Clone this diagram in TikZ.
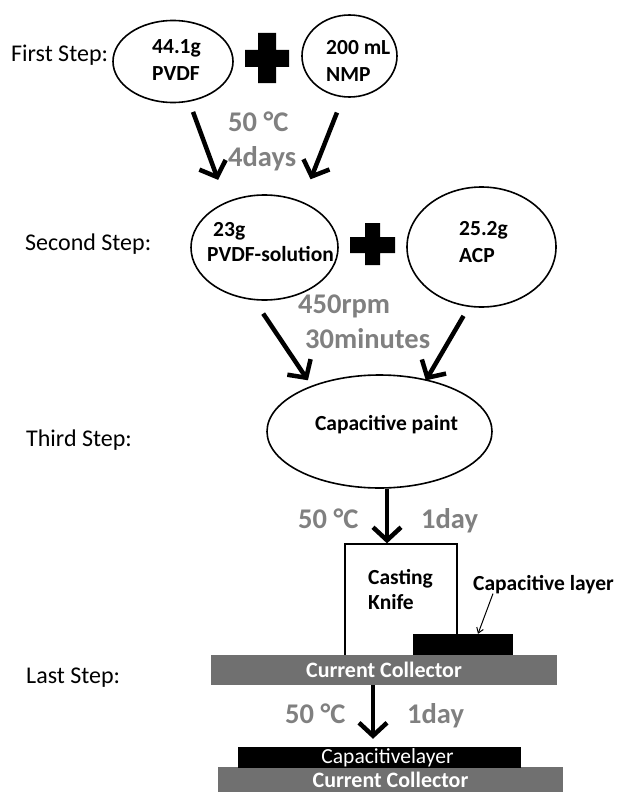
\documentclass[tikz,border=0pt]{standalone}
\usepackage{fontspec}
\setmainfont{Carlito}
\usetikzlibrary{positioning, arrows.meta, shapes.geometric}
\definecolor{condgray}{RGB}{128,128,128}
\definecolor{collgray}{RGB}{112,112,112}

\begin{document}
\begin{tikzpicture}[
    x=1pt, y=-1pt,
    % Styles
    steplabel/.style={anchor=base west, inner sep=0pt, font=\fontsize{24}{29}\selectfont},
    blob/.style={ellipse, draw, line width=1.6pt, inner sep=0pt},
    amount/.style={anchor=north west, inner sep=0pt, align=left, font=\fontsize{21.5}{27}\selectfont\bfseries},
    condition/.style={anchor=north west, inner sep=0pt, align=left, condgray, font=\fontsize{28.5}{35}\selectfont\bfseries},
    flow/.style={line width=4.5pt, -{Straight Barb[length=13pt,width=28pt]}},
    collector/.style={fill=collgray, text=white, inner sep=0pt, font=\fontsize{22}{26}\selectfont\bfseries},
    layer/.style={fill=black, inner sep=0pt},
]
\useasboundingbox (0,0) rectangle (619,792);
\clip (0,0) rectangle (619,792);

% First step
\node[steplabel] (step1) at (11,62) {First Step:};
\node[blob, minimum width=120pt, minimum height=82pt] (pvdf) at (173,61.5) {};
\node[amount] (pvdftext) at (152,39) {44.1g\\PVDF};
\fill (258,33) rectangle (276,83) (245,50) rectangle (289,67); % plus
\node[blob, minimum width=95pt, minimum height=82pt] (nmp) at (349.5,56) {};
\node[amount] (nmptext) at (326,40) {200 mL\\NMP};
\node[condition] (heat1) at (228,112) {50 °C\\4days};

% Second step
\node[steplabel] (step2) at (25,250) {Second Step:};
\node[blob, minimum width=147pt, minimum height=105pt] (sol) at (264.5,247.5) {};
\node[amount, font=\fontsize{21.5}{25}\selectfont\bfseries] (soltext) at (207,222) {\hspace*{6pt}23g\\PVDF-solution};
\fill (365,223) rectangle (380,265) (350,237) rectangle (395,253); % plus
\node[blob, minimum width=149pt, minimum height=120pt] (acp) at (481.5,247) {};
\node[amount] (acptext) at (459,221) {25.2g\\ACP};
\node[condition] (mix) at (298,295) {450rpm\\\hspace*{7pt}30minutes};

\draw[flow, shorten <=10.8pt, shorten >=23.4pt] (pvdf.-68.7) -- (sol.130.2);
\draw[flow, shorten <=16.3pt, shorten >=23.8pt] (nmp.-99) -- (sol.51);

% Third step
\node[steplabel] (step3) at (26,446) {Third Step:};
\node[blob, minimum width=225pt, minimum height=113pt] (paint) at (379.5,431.5) {};
\node[amount, anchor=base] (painttext) at (386.5,430) {Capacitive paint};
\node[condition, anchor=base west] (heat2) at (298,528) {50 °C};
\node[condition, anchor=base west] (time2) at (421,528) {1day};

\draw[flow, shorten <=16pt, shorten >=6.5pt] (sol.-101.3) -- (paint.146.4);
\draw[flow, shorten <=10.4pt, shorten >=-1.2pt] (acp.-102.7) -- (paint.48.2);

% Casting
\node[draw, fill=white, line width=1.3pt, minimum width=112pt, minimum height=112pt, inner sep=0pt] (knife) at (401,600) {};
\node[amount, font=\fontsize{21.5}{25}\selectfont\bfseries] (knifetext) at (368,569) {Casting\\Knife};
\node[layer, minimum width=100pt, minimum height=22pt] (wetlayer) at (463,645) {};
\node[collector, minimum width=346pt, minimum height=30pt] (coll) at (384,670) {Current Collector};
\node[amount, anchor=base west] (layerlabel) at (473,590) {Capacitive layer};

\draw[flow] ([xshift=7.5pt]paint.south) -- ([xshift=-14pt]knife.north);
\draw[-{Straight Barb[length=5pt,width=7pt]}, line width=1pt] ([xshift=20pt]layerlabel.south west) -- ([xshift=15pt]wetlayer.north);

% Last step
\node[steplabel] (step4) at (26,683) {Last Step:};
\node[condition, anchor=base west] (heat3) at (285,723) {50 °C};
\node[condition, anchor=base west] (time3) at (407,723) {1day};
\node[collector, minimum width=345pt, minimum height=26pt] (coll2) at (390.5,780) {Current Collector};
\node[layer, minimum width=283pt, minimum height=21pt, text=white, font=\fontsize{21.5}{25}\selectfont] (drylayer) at (379.5,757.5) {\hspace*{16pt}Capacitivelayer};

\draw[flow, shorten >=8pt] ([xshift=-11pt]coll.south) -- ([xshift=-6.5pt]drylayer.north);

\end{tikzpicture}
\end{document}
